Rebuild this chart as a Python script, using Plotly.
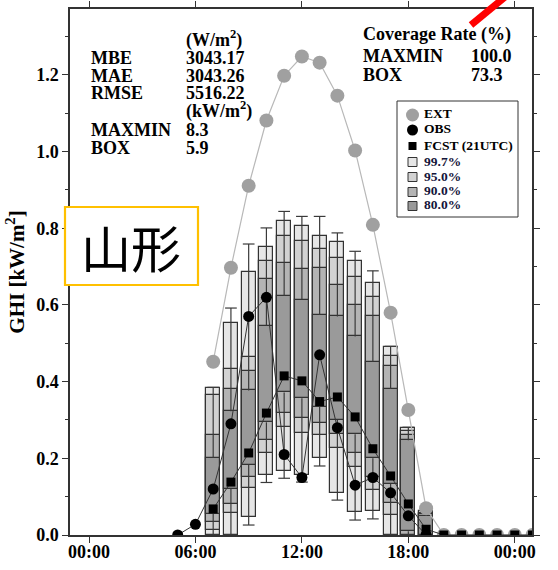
import plotly.graph_objects as go

# ---------------- data ----------------
box_hours = [7, 8, 9, 10, 11, 12, 13, 14, 15, 16, 17, 18, 19]
q_max   = [0.385, 0.592, 0.759, 0.801, 0.844, 0.831, 0.831, 0.788, 0.740, 0.689, 0.492, 0.281, 0.063]
q997_hi = [0.383, 0.553, 0.686, 0.751, 0.820, 0.805, 0.779, 0.763, 0.714, 0.657, 0.490, 0.279, 0.062]
q95_hi  = [0.364, 0.432, 0.463, 0.716, 0.781, 0.766, 0.746, 0.722, 0.673, 0.622, 0.468, 0.272, 0.057]
q90_hi  = [0.262, 0.382, 0.428, 0.668, 0.709, 0.695, 0.696, 0.653, 0.601, 0.572, 0.442, 0.262, 0.054]
q80_hi  = [0.201, 0.323, 0.377, 0.546, 0.624, 0.614, 0.574, 0.570, 0.518, 0.451, 0.381, 0.247, 0.050]
q80_lo  = [0.056, 0.120, 0.183, 0.294, 0.372, 0.357, 0.335, 0.300, 0.263, 0.200, 0.133, 0.010, 0.000]
q90_lo  = [0.035, 0.081, 0.152, 0.247, 0.319, 0.305, 0.292, 0.263, 0.213, 0.152, 0.083, 0.000, 0.000]
q95_lo  = [0.013, 0.057, 0.122, 0.215, 0.281, 0.266, 0.262, 0.226, 0.178, 0.117, 0.052, 0.000, 0.000]
q997_lo = [0.000, 0.000, 0.048, 0.157, 0.167, 0.157, 0.200, 0.110, 0.061, 0.063, 0.000, 0.000, 0.000]
q_min   = [0.000, 0.000, 0.026, 0.137, 0.148, 0.138, 0.180, 0.091, 0.039, 0.042, 0.000, 0.000, 0.000]

ext_hours = [7, 8, 9, 10, 11, 12, 13, 14, 15, 16, 17, 18, 19, 20, 21, 22, 23, 24, 25]
ext_vals  = [0.452, 0.697, 0.911, 1.081, 1.198, 1.248, 1.232, 1.146, 1.003, 0.809, 0.580,
             0.326, 0.070, 0.0, 0.0, 0.0, 0.0, 0.0, 0.0]

obs_hours = [5, 6, 7, 8, 9, 10, 11, 12, 13, 14, 15, 16, 17, 18, 19]
obs_vals  = [0.0, 0.028, 0.120, 0.290, 0.570, 0.620, 0.210, 0.150, 0.470, 0.280, 0.130,
             0.150, 0.110, 0.050, 0.0]

fcst_hours = [7, 8, 9, 10, 11, 12, 13, 14, 15, 16, 17, 18, 19, 20, 21, 22, 23, 24, 25]
fcst_vals  = [0.068, 0.138, 0.214, 0.318, 0.415, 0.402, 0.348, 0.360, 0.308, 0.225, 0.154,
              0.081, 0.015, 0.0, 0.0, 0.0, 0.0, 0.0, 0.0]

x_tickvals = [0, 6, 12, 18, 24]
x_ticktext = ["00:00", "06:00", "12:00", "18:00", "00:00"]
y_tickvals = [0.0, 0.2, 0.4, 0.6, 0.8, 1.0, 1.2]
y_ticktext = ["0.0", "0.2", "0.4", "0.6", "0.8", "1.0", "1.2"]

band_names  = ["99.7%", "95.0%", "90.0%", "80.0%"]
band_colors = ["#E6E6E6", "#D2D2D2", "#B4B4B4", "#9A9A9A"]
legend_labels = ["EXT", "OBS", "FCST (21UTC)"] + band_names

stats_left  = ["MBE", "MAE", "RMSE", "MAXMIN", "BOX"]
stats_right = ["3043.17", "3043.26", "5516.22", "8.3", "5.9"]
cov_labels  = ["MAXMIN", "BOX"]
cov_values  = ["100.0", "73.3"]
station = "山形"

# ---------------- figure ----------------
SERIF = "Liberation Serif, Times New Roman, serif"
EDGE = "#333333"
BOX_W = 0.78
CAP_W = 0.66

fig = go.Figure()

bands = [(q997_lo, q997_hi), (q95_lo, q95_hi), (q90_lo, q90_hi), (q80_lo, q80_hi)]
for (lo, hi), name, col in zip(bands, band_names, band_colors):
    fig.add_trace(go.Bar(
        x=box_hours, y=[h - l for h, l in zip(hi, lo)], base=lo, width=BOX_W,
        marker=dict(color=col, line=dict(color=EDGE, width=1.2)),
        name=name, showlegend=False))

# whiskers (outside the 80% box) + caps
wx, wy = [], []
for h, mx, a, b, mn in zip(box_hours, q_max, q80_hi, q80_lo, q_min):
    wx += [h, h, None, h, h, None, h - CAP_W / 2, h + CAP_W / 2, None, h - CAP_W / 2, h + CAP_W / 2, None]
    wy += [mx, a, None, b, mn, None, mx, mx, None, mn, mn, None]
fig.add_trace(go.Scatter(x=wx, y=wy, mode="lines", line=dict(color="#3a3a3a", width=1.2),
                         showlegend=False, hoverinfo="skip"))

fig.add_trace(go.Scatter(x=ext_hours, y=ext_vals, mode="lines+markers", name="EXT",
                         line=dict(color="#B8B8B8", width=1.2),
                         marker=dict(color="#A0A0A0", size=14), showlegend=False))
fig.add_trace(go.Scatter(x=obs_hours, y=obs_vals, mode="lines+markers", name="OBS",
                         line=dict(color="#333333", width=1),
                         marker=dict(color="black", size=11), showlegend=False))
fig.add_trace(go.Scatter(x=fcst_hours, y=fcst_vals, mode="lines+markers", name="FCST (21UTC)",
                         line=dict(color="#333333", width=1),
                         marker=dict(color="black", size=9, symbol="square"), showlegend=False))

# ---------------- layout helpers ----------------
L, R, T, B = 70, 532, 9, 535
W, H = R - L, B - T
def px(x):
    return (x - L) / W
def py(y):
    return (B - y) / H

annotations = []
def ann(text, x, y, size=18, color="black", anchor="left", family=SERIF, weight="bold"):
    annotations.append(dict(text=text, x=px(x), y=py(y), xref="paper", yref="paper",
                            xanchor=anchor, yanchor="middle", showarrow=False,
                            font=dict(family=family, size=size, color=color, weight=weight)))

# stats block
ann("(W/m<sup>2</sup>)", 184, 39)
rows_y = [57.5, 75.5, 93.5, 130.5, 148]
for lab, val, yy in zip(stats_left, stats_right, rows_y):
    ann(lab, 89, yy)
    ann(val, 184, yy)
ann("(kW/m<sup>2</sup>)", 184, 110)

# coverage block
ann("Coverage Rate (%)", 361, 35)
for lab, val, yy in zip(cov_labels, cov_values, [56.5, 74.5]):
    ann(lab, 361, yy)
    ann(val, 469, yy)

shapes = []
# red stroke at top
shapes.append(dict(type="line", xref="paper", yref="paper", x0=px(471), y0=py(25), x1=px(505), y1=py(-3),
                   line=dict(color="#FF0000", width=7), layer="above"))
# station label box
shapes.append(dict(type="rect", xref="paper", yref="paper", x0=px(65), x1=px(198), y0=py(285), y1=py(207),
                   fillcolor="white", line=dict(color="#FFC000", width=2.2), layer="above"))
ann(station, 131, 246, size=50, family="Noto Sans CJK JP", weight="normal", anchor="center")

# manual legend
shapes.append(dict(type="rect", xref="paper", yref="paper", x0=px(397), x1=px(518), y0=py(217), y1=py(101),
                   fillcolor="white", line=dict(color=EDGE, width=1), layer="above"))
leg_x = 412.5
leg_y = [115, 130, 146, 162, 177, 192, 206]
def sym(kind, cx, cy, r, fill, line=None):
    d = dict(type=kind, xref="paper", yref="paper", xsizemode="pixel", ysizemode="pixel",
             xanchor=px(cx), yanchor=py(cy), x0=-r, x1=r, y0=-r, y1=r,
             fillcolor=fill, layer="above",
             line=dict(color=line if line else fill, width=1 if line else 0))
    shapes.append(d)
sym("circle", leg_x, leg_y[0], 6.5, "#A0A0A0")
sym("circle", leg_x, leg_y[1], 5.5, "black")
sym("rect", leg_x, leg_y[2], 4, "black")
for yy, col in zip(leg_y[3:], band_colors):
    sym("rect", leg_x, yy, 4.5, col, EDGE)
for lab, yy in zip(legend_labels, leg_y):
    ann(lab, 422, yy - 1, size=13.5, color="black" if lab in legend_labels[:3] else "#15153a")

tickfont = dict(family=SERIF, size=18, color="black", weight="bold")
fig.update_layout(
    width=558, height=570,
    margin=dict(l=L, r=558 - R, t=T, b=570 - B, autoexpand=False),
    paper_bgcolor="white", plot_bgcolor="white",
    barmode="overlay", bargap=0,
    showlegend=False,
    xaxis=dict(range=[-1.071, 24.97], tickmode="array", tickvals=x_tickvals, ticktext=x_ticktext,
               ticks="outside", ticklen=6, tickwidth=1.3, tickcolor=EDGE, automargin=False,
               ticklabelstandoff=-6,
               showline=True, linecolor=EDGE, linewidth=1.5, mirror="ticks",
               showgrid=False, zeroline=False, tickfont=tickfont),
    yaxis=dict(range=[0, 1.372], tickmode="array", tickvals=y_tickvals, ticktext=y_ticktext,
               ticks="outside", ticklen=6, tickwidth=1.3, tickcolor=EDGE, automargin=False,
               minor=dict(dtick=0.1, tick0=0, ticks="outside", ticklen=3, tickwidth=1.2, tickcolor=EDGE),
               showline=True, linecolor=EDGE, linewidth=1.5, mirror="ticks",
               showgrid=False, zeroline=False, tickfont=tickfont,
               title=dict(text="GHI [kW/m<sup>2</sup>]", standoff=6,
                          font=dict(family=SERIF, size=21, color="black", weight="bold"))),
    annotations=annotations,
    shapes=shapes,
)

fig.write_html("out.html")
